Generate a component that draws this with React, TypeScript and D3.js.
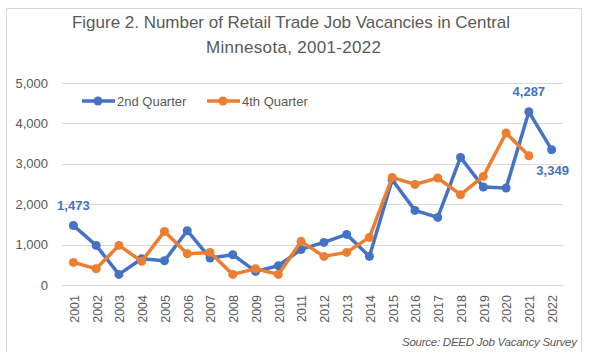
import React from 'react';
import * as d3 from 'd3';

const years = ['2001', '2002', '2003', '2004', '2005', '2006', '2007', '2008', '2009', '2010', '2011',
  '2012', '2013', '2014', '2015', '2016', '2017', '2018', '2019', '2020', '2021', '2022'];

const q2 = [1473, 980, 262, 650, 600, 1344, 668, 750, 337, 478, 880,
  1055, 1253, 708, 2606, 1847, 1673, 3158, 2425, 2400, 4287, 3349];

const q4 = [560, 403, 980, 585, 1327, 775, 807, 262, 403, 262, 1080,
  708, 807, 1178, 2663, 2490, 2648, 2235, 2688, 3762, 3200];

const yTicks = [0, 1000, 2000, 3000, 4000, 5000];

const BLUE = '#4472C4';
const ORANGE = '#ED7D31';
const FONT = "'Liberation Sans', Arial, sans-serif";

export default function App() {
  const width = 589;
  const height = 364;
  const margin = { top: 83, right: 26, bottom: 79, left: 62 };

  const x = d3.scalePoint<string>()
    .domain(years)
    .range([margin.left, width - margin.right])
    .padding(0.5);

  const y = d3.scaleLinear()
    .domain([0, 5000])
    .range([height - margin.bottom, margin.top]);

  const fmt = d3.format(',');

  const line = d3.line<number>()
    .x((d, i) => x(years[i]) as number)
    .y(d => y(d));

  const series = [
    { name: '2nd Quarter', values: q2, color: BLUE },
    { name: '4th Quarter', values: q4, color: ORANGE },
  ];

  const labels = [
    { i: 0, dx: 0, dy: -15 },
    { i: 20, dx: 0, dy: -16 },
    { i: 21, dx: 1, dy: 25 },
  ];

  return (
    <svg width={width} height={height} style={{ position: 'absolute', left: 0, top: 0 }} fontFamily={FONT}>
      <rect x={0} y={0} width={width} height={height} fill="#fff" />
      <path d="M6.5,352 V8.5 H581.5 V352" fill="none" stroke="#d9d9d9" strokeWidth={1} />

      <text x={291} y={28} textAnchor="middle" fontSize={17} fill="#595959" textLength={438}>
        Figure 2. Number of Retail Trade Job Vacancies in Central
      </text>
      <text x={293.5} y={53} textAnchor="middle" fontSize={17} fill="#595959" textLength={175}>
        Minnesota, 2001-2022
      </text>

      {yTicks.map(t => (
        <g key={t}>
          <line x1={margin.left} x2={width - margin.right} y1={Math.round(y(t)) + 0.5} y2={Math.round(y(t)) + 0.5}
            stroke="#d9d9d9" strokeWidth={1} />
          <text x={48} y={y(t)} dy="0.35em" textAnchor="end" fontSize={13} fill="#595959">{fmt(t)}</text>
        </g>
      ))}

      {years.map(yr => (
        <text key={yr} transform={`translate(${(x(yr) as number) + 1},295) rotate(-90)`}
          textAnchor="end" dy="0.35em" fontSize={12.5} fill="#595959">{yr}</text>
      ))}

      {series.map(s => (
        <g key={s.name}>
          <path d={line(s.values) as string} fill="none" stroke={s.color} strokeWidth={3.5} strokeLinejoin="round" />
          {s.values.map((v, i) => (
            <circle key={i} cx={x(years[i]) as number} cy={y(v)} r={4.5} fill={s.color} />
          ))}
        </g>
      ))}

      {labels.map(l => (
        <text key={l.i} x={(x(years[l.i]) as number) + l.dx} y={y(q2[l.i]) + l.dy}
          textAnchor="middle" fontSize={13} fontWeight="bold" fill={BLUE}>{fmt(q2[l.i])}</text>
      ))}

      {series.map((s, k) => {
        const lx = 82 + k * 125;
        return (
          <g key={s.name}>
            <line x1={lx} x2={lx + 33} y1={101} y2={101} stroke={s.color} strokeWidth={3.5} />
            <circle cx={lx + 16} cy={101} r={4.5} fill={s.color} />
            <text x={lx + 35} y={101} dy="0.35em" fontSize={13} fill="#595959">{s.name}</text>
          </g>
        );
      })}

      <text x={577} y={346} textAnchor="end" fontSize={11.5} fontStyle="italic" fill="#595959" textLength={175}>
        Source: DEED Job Vacancy Survey
      </text>
    </svg>
  );
}
